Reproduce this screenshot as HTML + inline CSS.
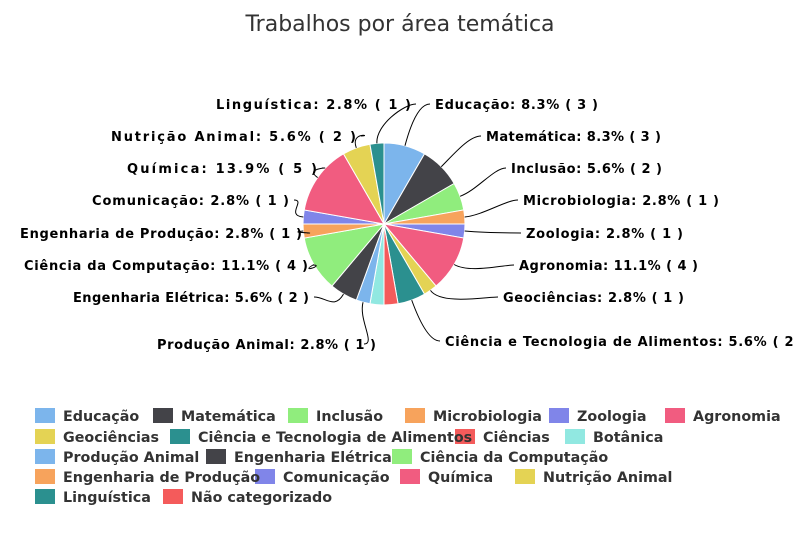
<!DOCTYPE html>
<html><head><meta charset="utf-8"><style>
html,body{margin:0;padding:0;background:#fff;}
body{width:800px;height:533px;overflow:hidden;position:relative;font-family:"DejaVu Sans","Liberation Sans",sans-serif;}
svg{position:absolute;left:0;top:0;}
.lb{font-family:"DejaVu Sans",sans-serif;font-weight:bold;font-size:13px;fill:#000;}
.lg{font-family:"DejaVu Sans",sans-serif;font-weight:bold;font-size:14.3px;fill:#333;}
</style></head><body>
<svg id="s" width="800" height="533" viewBox="0 0 800 533">
<text x="400" y="31" text-anchor="middle" font-family="DejaVu Sans, sans-serif" font-size="22" fill="#333">Trabalhos por área temática</text>
<g id="pie"></g>
<g id="con" fill="none" stroke="#000" stroke-width="1"></g>
<g class="lb">
<text x="435" y="109" textLength="163">Educação: 8.3% ( 3 )</text>
<text x="486" y="141" textLength="175">Matemática: 8.3% ( 3 )</text>
<text x="511" y="173" textLength="151">Inclusão: 5.6% ( 2 )</text>
<text x="523" y="205" textLength="196">Microbiologia: 2.8% ( 1 )</text>
<text x="526" y="238" textLength="157">Zoologia: 2.8% ( 1 )</text>
<text x="519" y="270" textLength="179">Agronomia: 11.1% ( 4 )</text>
<text x="503" y="302" textLength="181">Geociências: 2.8% ( 1 )</text>
<text x="445" y="346" letter-spacing="0.7">Ciência e Tecnologia de Alimentos: 5.6% ( 2 )</text>
<text x="216" y="109" textLength="195">Linguística: 2.8% ( 1 )</text>
<text x="111" y="141" textLength="245">Nutrição Animal: 5.6% ( 2 )</text>
<text x="127" y="173" textLength="190">Química: 13.9% ( 5 )</text>
<text x="92" y="205" textLength="197">Comunicação: 2.8% ( 1 )</text>
<text x="20" y="238" textLength="282">Engenharia de Produção: 2.8% ( 1 )</text>
<text x="24" y="270" textLength="284">Ciência da Computação: 11.1% ( 4 )</text>
<text x="73" y="302" textLength="236">Engenharia Elétrica: 5.6% ( 2 )</text>
<text x="157" y="349" textLength="219">Produção Animal: 2.8% ( 1 )</text>
</g>
<g id="leg"></g>
<g class="lg">
<text x="63" y="421">Educação</text><text x="181" y="421">Matemática</text><text x="316" y="421">Inclusão</text><text x="433" y="421">Microbiologia</text><text x="577" y="421">Zoologia</text><text x="693" y="421">Agronomia</text>
<text x="63" y="442">Geociências</text><text x="198" y="442">Ciência e Tecnologia de Alimentos</text><text x="483" y="442">Ciências</text><text x="593" y="442">Botânica</text>
<text x="63" y="462">Produção Animal</text><text x="234" y="462">Engenharia Elétrica</text><text x="420" y="462">Ciência da Computação</text>
<text x="63" y="482">Engenharia de Produção</text><text x="283" y="482">Comunicação</text><text x="428" y="482">Química</text><text x="543" y="482">Nutrição Animal</text>
<text x="63" y="502">Linguística</text><text x="191" y="502">Não categorizado</text>
</g>
</svg>
<script>
var C=['#7cb5ec','#434348','#90ed7d','#f7a35c','#8085e9','#f15c80','#e4d354','#2b908f','#f45b5b','#91e8e1'];
var v=[3,3,2,1,1,4,1,2,1,1,1,2,4,1,1,5,2,1];
var cx=384,cy=224,r=81,a=0,pie=document.getElementById('pie'),h='';
function P(d,rr){var t=(d-90)*Math.PI/180;return [cx+rr*Math.cos(t),cy+rr*Math.sin(t)];}
var mids=[];
v.forEach(function(n,i){var s=a,e=a+n*10;a=e;var p1=P(s,r),p2=P(e,r);
h+='<path d="M'+cx+' '+cy+'L'+p1[0]+' '+p1[1]+'A'+r+' '+r+' 0 '+(e-s>180?1:0)+' 1 '+p2[0]+' '+p2[1]+'Z" fill="'+C[i%10]+'" stroke="#fff" stroke-width="1"/>';mids.push((s+e)/2);});
pie.innerHTML=h;
var L=[[430,104],[481,136],[506,168],[518,200],[521,233],[514,265],[498,297],[440,341],null,null,[364,344],[314,297],[313,265],[307,233],[294,200],[322,168],[361,136],[416,104]];
var ch='';
L.forEach(function(l,i){if(!l)return;var e=P(mids[i],r),o=P(mids[i],r+18);var dx=l[0]>cx?-12:12;
ch+='<path d="M'+e[0]+' '+e[1]+'C'+o[0]+' '+o[1]+' '+(l[0]+dx)+' '+l[1]+' '+l[0]+' '+l[1]+'"/>';});
document.getElementById('con').innerHTML=ch;
var B=[[35,408,0],[153,408,1],[288,408,2],[405,408,3],[549,408,4],[665,408,5],[35,429,6],[170,429,7],[455,429,8],[565,429,9],[35,449,0],[206,449,1],[392,449,2],[35,469,3],[255,469,4],[400,469,5],[515,469,6],[35,489,7],[163,489,8]];
var lg='';B.forEach(function(b){lg+='<rect x="'+b[0]+'" y="'+b[1]+'" width="20" height="15" fill="'+C[b[2]]+'"/>';});
document.getElementById('leg').innerHTML=lg;
</script>
</body></html>
